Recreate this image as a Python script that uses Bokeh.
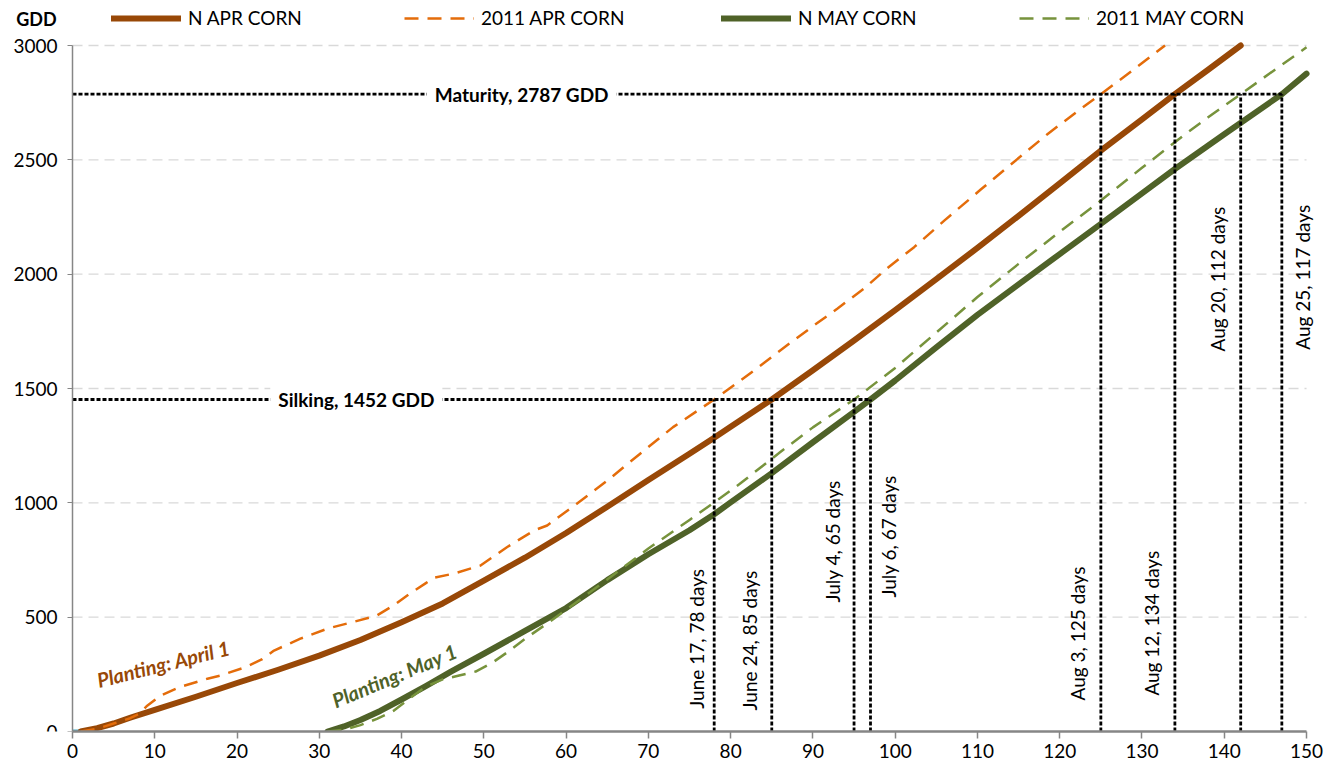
import math
from bokeh.plotting import figure
from bokeh.models import (Range1d, FixedTicker, Legend, LegendItem, LabelSet,
                          ColumnDataSource, Label, LinearAxis)
from bokeh.core.properties import value
from bokeh.embed import file_html
from bokeh.resources import INLINE

# ---------------- data ----------------
napr_x = [1, 3, 5, 7, 10, 15, 20, 25, 30, 35, 40, 45, 50, 55, 60, 65, 70, 75, 78, 80,
          85, 90, 95, 100, 105, 110, 115, 120, 125, 130, 134, 138, 142]
napr_y = [0, 15, 35, 60, 95, 152, 212, 270, 332, 400, 478, 560, 660, 760, 868, 983,
          1100, 1215, 1285, 1333, 1452, 1580, 1710, 1843, 1978, 2115, 2255, 2397, 2540,
          2677, 2787, 2893, 3000]

oapr_x = [1, 3, 5, 7, 8, 9, 10.7, 13, 16.4, 18, 21, 23, 24.5, 27.7, 31, 34, 37, 39, 41,
          43, 44, 46.3, 49.6, 52.8, 56.1, 57.7, 61.3, 65, 69, 73, 78, 81.2, 84, 86.9,
          90.1, 93, 96.2, 99, 102.3, 106, 110.4, 114, 118.5, 122, 125, 129, 132.8]
oapr_y = [0, 12, 35, 58, 75, 110, 157, 194, 231, 245, 281, 315, 354, 406, 450, 478, 507,
          551, 603, 650, 673, 690, 726, 806, 879, 901, 996, 1097, 1215, 1331, 1452, 1535,
          1610, 1690, 1775, 1850, 1937, 2025, 2118, 2235, 2370, 2478, 2612, 2708, 2787,
          2895, 3000]

nmay_x = [31, 33, 35, 37.4, 40, 43, 46, 50, 55, 60, 65, 70, 75, 78, 80, 85, 90, 95, 97,
          100, 105, 110, 115, 120, 125, 130, 134, 140, 147, 150]
nmay_y = [0, 22, 50, 90, 140, 200, 262, 340, 440, 540, 662, 775, 880, 950, 1002, 1130,
          1265, 1398, 1452, 1535, 1680, 1822, 1955, 2088, 2220, 2353, 2460, 2612, 2787,
          2877]

omay_x = [31, 33, 35, 37, 39, 41, 43, 45, 47, 49, 51, 53, 55, 58, 60, 65, 70, 75, 78, 81,
          86, 90, 95, 100, 105, 110, 115, 120, 125, 130, 135, 138, 142, 146, 150]
omay_y = [0, 8, 28, 55, 90, 145, 198, 228, 245, 262, 300, 350, 405, 480, 532, 665, 800,
          925, 1002, 1080, 1221, 1330, 1452, 1590, 1745, 1900, 2045, 2185, 2322, 2465,
          2605, 2685, 2787, 2890, 2992]

stub_x = [0, 1.5]
stub_y = [0, 0]

series_names = ["N APR CORN", "2011 APR CORN", "N MAY CORN", "2011 MAY CORN"]

silk_gdd = 1452
mat_gdd = 2787
silk_days = [78, 85, 95, 97]
mat_days = [125, 134, 142, 147]

h_x0 = [0, 0]
h_x1 = [97, 147]
h_y = [silk_gdd, mat_gdd]

h_labels = ["Silking, 1452 GDD", "Maturity, 2787 GDD"]
h_label_x = [34.5, 54.6]

v_labels = ["June 17, 78 days", "June 24,  85 days", "July  4,  65 days", "July  6, 67 days",
            "Aug 3, 125 days", "Aug 12, 134 days", "Aug 20, 112 days", "Aug 25, 117 days"]
v_label_x = [75.8, 82.35, 92.44, 99.13, 122.2, 131.1, 139.24, 149.57]
v_label_y = [100, 92, 564, 586, 136, 157, 1662, 1670]

plant_labels = ["Planting: April 1", "Planting: May 1"]
plant_x = [11.06, 39.14]
plant_y = [297, 245]
plant_angle_deg = [14.1, 22.6]

axis_title = "GDD"
axis_title_x = -4.38
axis_title_y = 3114

x_ticks = list(range(0, 151, 10))
y_ticks = list(range(0, 3001, 500))

# ---------------- styles ----------------
C_NAPR = "#984807"
C_OAPR = "#E46C0A"
C_NMAY = "#4F6228"
C_OMAY = "#77933C"
FONT = "Lato"

X_START, X_END = -7.7796, 150.97
Y_END = 3174.93

p = figure(width=1330, height=768, output_backend="svg", toolbar_location=None,
           x_range=Range1d(X_START, X_END), y_range=Range1d(0, Y_END),
           y_axis_location=None,
           min_border_left=8, min_border_right=16, min_border_top=5,
           min_border_bottom=37)
p.outline_line_color = None
p.background_fill_color = "white"
p.xgrid.visible = False
p.ygrid.visible = False

yax = LinearAxis(fixed_location=0, bounds=(0, 3000), ticker=FixedTicker(ticks=y_ticks))
p.add_layout(yax, "left")

p.xaxis.ticker = FixedTicker(ticks=x_ticks)
p.xaxis.bounds = (0, 150)
for ax in (p.xaxis[0], yax):
    ax.axis_line_color = "#868686"
    ax.major_tick_line_color = "#868686"
    ax.minor_tick_line_color = None
    ax.major_tick_in = 0
    ax.major_label_text_font = FONT
    ax.major_label_text_font_size = "19px"
    ax.major_label_text_color = "black"
p.xaxis.axis_line_width = 2.5
p.xaxis.major_tick_line_width = 1.5
p.xaxis.major_tick_out = 7
p.xaxis.major_label_standoff = 5
yax.axis_line_width = 1.5
yax.major_tick_out = 5
yax.major_label_standoff = 10

# horizontal grid lines (dashed, light grey) between x = 0 and 150
grid_y = y_ticks[1:]
p.segment(x0=[x_ticks[0]] * len(grid_y), y0=grid_y, x1=[x_ticks[-1]] * len(grid_y),
          y1=grid_y, line_color="#d9d9d9", line_width=1.3, line_dash="10 6")

# series
r_stub = p.line(stub_x, stub_y, line_color="#4BACC6", line_width=4)
r_napr = p.line(napr_x, napr_y, line_color=C_NAPR, line_width=6, line_cap="round",
                line_join="round")
r_oapr = p.line(oapr_x, oapr_y, line_color=C_OAPR, line_width=2.5, line_dash="14 9",
                line_join="round")
r_nmay = p.line(nmay_x, nmay_y, line_color=C_NMAY, line_width=6, line_cap="round",
                line_join="round")
r_omay = p.line(omay_x, omay_y, line_color=C_OMAY, line_width=2.5, line_dash="14 9",
                line_join="round")

# reference dotted lines
DOT_W = 2.8
p.segment(x0=h_x0, y0=h_y, x1=h_x1, y1=h_y, line_color="black", line_width=DOT_W,
          line_dash="4 2")
p.segment(x0=silk_days, y0=[0] * len(silk_days), x1=silk_days,
          y1=[silk_gdd] * len(silk_days), line_color="black", line_width=DOT_W,
          line_dash="4 2")
p.segment(x0=mat_days, y0=[0] * len(mat_days), x1=mat_days,
          y1=[mat_gdd] * len(mat_days), line_color="black", line_width=DOT_W,
          line_dash="4 2")

# bold labels with white background
p.text(x=h_label_x, y=h_y, text=h_labels, text_font=value(FONT),
       text_font_style="bold", text_font_size="19px", text_align="center",
       text_baseline="middle", text_color="black",
       background_fill_color="white", padding=8)

# vertical date labels
vsrc = ColumnDataSource(dict(x=v_label_x, y=v_label_y, text=v_labels))
p.add_layout(LabelSet(x="x", y="y", text="text", source=vsrc, angle=math.pi / 2,
                      text_align="left", text_baseline="middle",
                      text_font=value(FONT), text_font_size="19px",
                      text_color="black"))

# planting labels
psrc = ColumnDataSource(dict(x=plant_x, y=plant_y, text=plant_labels,
                             angle=[math.radians(a) for a in plant_angle_deg],
                             color=[C_NAPR, C_NMAY]))
p.add_layout(LabelSet(x="x", y="y", text="text", source=psrc, angle="angle",
                      text_align="center", text_baseline="middle",
                      text_font=value(FONT), text_font_size="20px",
                      text_font_style="bold italic", text_color="color"))

# GDD axis title
p.add_layout(Label(x=axis_title_x, y=axis_title_y, text=axis_title, text_font=FONT,
                   text_font_size="18px", text_font_style="bold", text_align="center",
                   text_baseline="middle", text_color="black"))

# legends (four single-item legends along the top)
legend_pos = [(103, 702), (396, 702), (713, 702), (1011, 702)]
for name, rend, pos in zip(series_names, [r_napr, r_oapr, r_nmay, r_omay], legend_pos):
    lg = Legend(items=[LegendItem(label=name, renderers=[rend])], location=pos,
                orientation="horizontal", glyph_width=70, glyph_height=20,
                label_height=20, label_standoff=7, padding=0, margin=0, spacing=0,
                border_line_color=None, background_fill_alpha=0,
                label_text_font=FONT, label_text_font_size="19px",
                label_text_color="black")
    p.add_layout(lg)

open("out.html", "w").write(file_html(p, INLINE))
